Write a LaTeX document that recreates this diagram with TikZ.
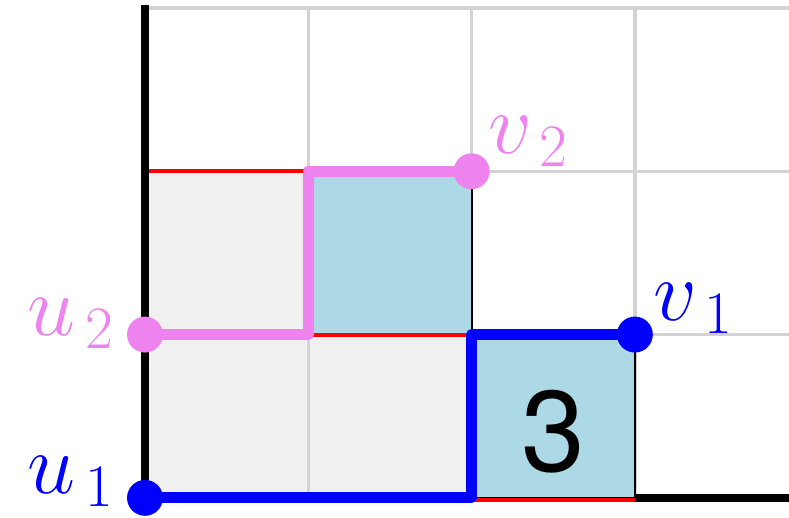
\RequirePackage{fix-cm}
\documentclass[tikz,border=0pt]{standalone}
\usepackage{fontspec}
\newfontfamily\hv{TeX Gyre Heros}
\definecolor{pinkv}{HTML}{EE82EE}
\definecolor{lblue}{HTML}{ADD8E6}
\definecolor{cgrey}{HTML}{F0F0F0}
\definecolor{gline}{HTML}{D3D3D3}
\tikzset{
  gridline/.style={draw=gline, line width=1.2pt},
  axisline/.style={draw=black, line width=2.8pt},
  redline/.style={draw=red, line width=1.4pt},
  bluecell/.style={fill=lblue, draw=black, line width=0.7pt},
  greycell/.style={fill=cgrey},
  pathline/.style={line width=3.8pt, line join=round, line cap=round},
  dot/.style={circle, fill=#1, inner sep=0pt, minimum size=0.22*2cm},
  lab/.style={inner sep=0pt, anchor=base west, font=\fontsize{30}{36}\selectfont, text=#1},
}
\begin{document}
\begin{tikzpicture}[x=2cm, y=2cm]
\clip (-0.888,-0.123) rectangle (3.944,3.049);
% grey cells
\fill[greycell] (0,0) rectangle (1,2);
\fill[greycell] (1,0) rectangle (2,1);
% grid
\foreach \i in {0,1,2,3,4} \draw[gridline] (\i,0) -- (\i,3);
\foreach \j in {0,1,2,3} \draw[gridline] (0,\j) -- (4.2,\j);
% blue cells
\filldraw[bluecell] (1,1) rectangle (2,2);
\filldraw[bluecell] (2,0) rectangle (3,1);
\node[font=\hv\fontsize{40}{48}\selectfont, inner sep=0pt] (three) at (2.5,0.405) {3};
% red lines
\draw[redline] (0,2) -- (1,2);
\draw[redline] (1,1) -- (2,1);
\draw[redline] (2,-0.012) -- (3,-0.012);
% axes
\draw[axisline] (0,0) -- (0,3.02);
\draw[axisline] (3,0) -- (4.2,0);
% points
\coordinate (pu1) at (0,0);
\coordinate (pv1) at (3,1);
\coordinate (pu2) at (0,1);
\coordinate (pv2) at (2,2);
% paths
\draw[pathline, pinkv] (pu2) -- (1,1) -- (1,2) -- (pv2);
\draw[pathline, blue] (pu1) -- (2,0) -- (2,1) -- (pv1);
\node[dot=pinkv] (du2) at (pu2) {};
\node[dot=pinkv] (dv2) at (pv2) {};
\node[dot=blue] (du1) at (pu1) {};
\node[dot=blue] (dv1) at (pv1) {};
% labels
\node[lab=blue] (lu1) at (-0.723,0.025) {$u_{\kern3.5pt 1}$};
\node[lab=pinkv] (lu2) at (-0.723,0.994) {$u_{\kern3.5pt 2}$};
\node[lab=blue] (lv1) at (3.111,1.086) {$v_{\kern3.5pt 1}$};
\node[lab=pinkv] (lv2) at (2.100,2.110) {$v_{\kern3.5pt 2}$};
\end{tikzpicture}
\end{document}
